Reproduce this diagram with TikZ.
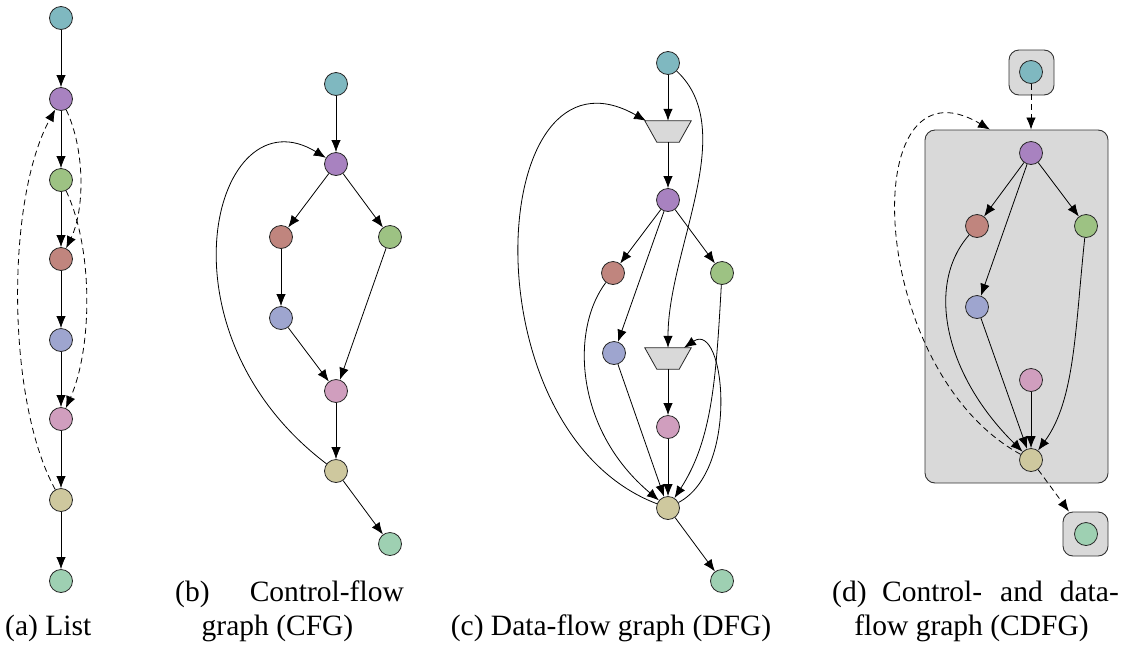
\documentclass[tikz,border=0pt]{standalone}
\usepackage{fontspec}
\setmainfont{Liberation Serif}
\usetikzlibrary{arrows.meta,calc}

\definecolor{cTeal}{RGB}{127,184,192}
\definecolor{cPurple}{RGB}{168,130,192}
\definecolor{cGreen}{RGB}{157,194,131}
\definecolor{cRed}{RGB}{192,133,126}
\definecolor{cBlue}{RGB}{158,165,207}
\definecolor{cPink}{RGB}{208,158,190}
\definecolor{cTan}{RGB}{206,200,158}
\definecolor{cMint}{RGB}{158,208,178}
\definecolor{cBox}{RGB}{217,217,217}

\tikzset{
  vx/.style={circle, draw=black!85, line width=0.8pt, minimum size=23pt, inner sep=0pt},
  flow/.style={line width=0.8pt, -{Latex[length=12pt,width=9.5pt]}},
  dflow/.style={flow, dash pattern=on 6pt off 4pt},
  mergebox/.style={rectangle, minimum width=46pt, minimum height=21pt, inner sep=0pt},
  mergefill/.style={fill=cBox, draw=black!85, line width=0.8pt, line join=miter},
  blk/.style={rounded corners=10pt, fill=cBox, draw=black!80, line width=0.9pt, inner sep=0pt},
  captext/.style={font=\fontsize{29.5}{36}\selectfont, inner sep=0pt},
}

\begin{document}
\begin{tikzpicture}[x=1pt,y=1pt]
\useasboundingbox (0,0) rectangle (1132,-646);

% ---------- (a) list ----------
\node[vx, fill=cTeal]   (a1) at (61,-18)  {};
\node[vx, fill=cPurple] (a2) at (61,-99)  {};
\node[vx, fill=cGreen]  (a3) at (61,-180) {};
\node[vx, fill=cRed]    (a4) at (61,-259) {};
\node[vx, fill=cBlue]   (a5) at (61,-340) {};
\node[vx, fill=cPink]   (a6) at (61,-419) {};
\node[vx, fill=cTan]    (a7) at (61,-500) {};
\node[vx, fill=cMint]   (a8) at (61,-581) {};
\foreach \i/\j in {1/2,2/3,3/4,4/5,5/6,6/7,7/8} \draw[flow] (a\i) -- (a\j);
\draw[dflow] (a2) .. controls +(24,-50) and +(24,50) .. (a4);
\draw[dflow] (a3) .. controls +(33,-70) and +(31,70) .. (a6);
\draw[dflow] (a7) .. controls +(-55,100) and +(-55,-100) .. (a2);
\node[captext, anchor=base west] (capa) at (5,-635) {(a) List};

% ---------- (b) control-flow graph ----------
\node[vx, fill=cTeal]   (b1) at (336,-84)  {};
\node[vx, fill=cPurple] (b2) at (336,-164) {};
\node[vx, fill=cRed]    (b3) at (281,-237) {};
\node[vx, fill=cGreen]  (b4) at (390,-237) {};
\node[vx, fill=cBlue]   (b5) at (281,-318) {};
\node[vx, fill=cPink]   (b6) at (336,-391) {};
\node[vx, fill=cTan]    (b7) at (336,-471) {};
\node[vx, fill=cMint]   (b8) at (390,-544) {};
\foreach \i/\j in {1/2,2/3,2/4,3/5,5/6,4/6,6/7,7/8} \draw[flow] (b\i) -- (b\j);
\draw[flow] (b7) .. controls +(-186,141) and +(-121,74) .. (b2);
\node[captext, anchor=base west] (capb1) at (175,-601) {(b)};
\node[captext, anchor=base east] (capb2) at (404,-601) {Control-flow};
\node[captext, anchor=base] (capb3) at (277.5,-635) {graph (CFG)};

% ---------- (c) data-flow graph ----------
\node[vx, fill=cTeal]   (c1) at (668,-63)  {};
\node[mergebox]         (m1) at (668,-131.5) {};
\node[vx, fill=cPurple] (c2) at (668,-200) {};
\node[vx, fill=cRed]    (c3) at (613,-273) {};
\node[vx, fill=cGreen]  (c4) at (722,-273) {};
\node[vx, fill=cBlue]   (c5) at (614,-353) {};
\node[mergebox]         (m2) at (668,-358.5) {};
\node[vx, fill=cPink]   (c6) at (668,-427) {};
\node[vx, fill=cTan]    (c7) at (668,-508) {};
\node[vx, fill=cMint]   (c8) at (722,-581) {};
% merge blocks: wide side on top
\foreach \m in {m1,m2}
  \draw[mergefill] (\m.north west) -- (\m.north east)
    -- ($(\m.south east)+(-12,0)$) -- ($(\m.south west)+(12,0)$) -- cycle;
\coordinate (m1in) at ($(m1.north)+(-22,0)$);
\coordinate (m2in) at ($(m2.north)+(16,0)$);
\draw[flow] (c1) -- (m1);
\draw[flow] (m1) -- (c2);
\draw[flow] (c2) -- (c3);
\draw[flow] (c2) -- (c4);
\draw[flow] (c2) -- (c5);
\draw[flow] (m2) -- (c6);
\draw[flow] (c6) -- (c7);
\draw[flow] (c5) -- (c7);
\draw[flow] (c7) -- (c8);
\draw[flow] (c1) .. controls +(72,-67) and +(0,98) .. (m2.north);
\draw[flow] (c3) .. controls +(-43,-57) and +(-93,78) .. (c7);
\draw[flow] (c4) .. controls +(-6,-107) and +(44,68) .. (c7);
\draw[flow] (c7) .. controls +(72,38) and +(41,28) .. (m2in);
\draw[flow] (c7) .. controls +(-204,78) and +(-160,91) .. (m1in);
\node[captext, anchor=base] (capc) at (611,-635) {(c) Data-flow graph (DFG)};

% ---------- (d) control- and data-flow graph ----------
\node[blk, minimum width=45pt, minimum height=45pt]   (tbox) at (1031.5,-72.5) {};
\node[blk, minimum width=183pt, minimum height=353pt] (blk)  at (1016.5,-306.5) {};
\node[blk, minimum width=45pt, minimum height=44pt]   (obox) at (1085.5,-534) {};
\node[vx, fill=cTeal]   (d1) at (1031,-72)  {};
\node[vx, fill=cPurple] (d2) at (1031,-153) {};
\node[vx, fill=cRed]    (d3) at (977,-226)  {};
\node[vx, fill=cGreen]  (d4) at (1086,-226) {};
\node[vx, fill=cBlue]   (d5) at (977,-307)  {};
\node[vx, fill=cPink]   (d6) at (1031,-380) {};
\node[vx, fill=cTan]    (d7) at (1031,-460) {};
\node[vx, fill=cMint]   (d8) at (1086,-534) {};
\coordinate (blkin) at ($(blk.north)+(-26.5,0)$);
\draw[dflow] (d1) -- (d1 |- blk.north);
\draw[flow] (d2) -- (d3);
\draw[flow] (d2) -- (d4);
\draw[flow] (d2) -- (d5);
\draw[flow] (d5) -- (d7);
\draw[flow] (d6) -- (d7);
\draw[flow] (d3) .. controls +(-52,-59) and +(-86,85) .. (d7);
\draw[flow] (d4) .. controls +(-11,-104) and +(44,60) .. (d7);
\draw[dflow] (d7) -- (obox);
\draw[dflow] (d7) .. controls +(-165,90) and +(-135,80) .. (blkin);
\node[captext, anchor=base west] (capd1) at (832,-601) {(d)};
\node[captext, anchor=base west] (capd2) at (882,-601) {Control-};
\node[captext, anchor=base west] (capd3) at (1000,-601) {and};
\node[captext, anchor=base east] (capd4) at (1119,-601) {data-};
\node[captext, anchor=base] (capd5) at (971.5,-635) {flow graph (CDFG)};
\end{tikzpicture}
\end{document}
